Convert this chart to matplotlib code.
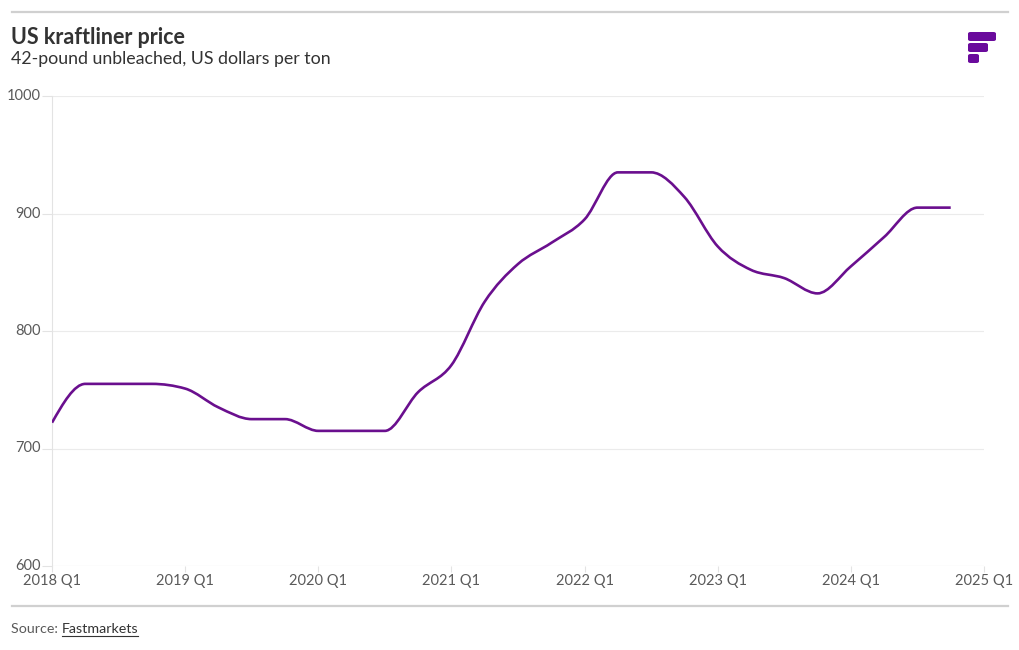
import numpy as np
import matplotlib
matplotlib.use("Agg")
import matplotlib.pyplot as plt
from matplotlib.path import Path
from matplotlib.patches import PathPatch, FancyBboxPatch
from matplotlib.lines import Line2D

# ---------------- data ----------------
quarters = ["2018 Q1", "2018 Q2", "2018 Q3", "2018 Q4",
            "2019 Q1", "2019 Q2", "2019 Q3", "2019 Q4",
            "2020 Q1", "2020 Q2", "2020 Q3", "2020 Q4",
            "2021 Q1", "2021 Q2", "2021 Q3", "2021 Q4",
            "2022 Q1", "2022 Q2", "2022 Q3", "2022 Q4",
            "2023 Q1", "2023 Q2", "2023 Q3", "2023 Q4",
            "2024 Q1", "2024 Q2", "2024 Q3", "2024 Q4"]
prices = [722, 755, 755, 755,
          751, 735, 725, 725,
          715, 715, 715, 748,
          771, 825, 857, 875,
          895, 935, 935, 914,
          872, 852, 845, 832,
          855, 880, 905, 905]
tick_labels = ["2018 Q1", "2019 Q1", "2020 Q1", "2021 Q1",
               "2022 Q1", "2023 Q1", "2024 Q1", "2025 Q1"]
y_ticks = [600, 700, 800, 900, 1000]

TITLE = "US kraftliner price"
SUBTITLE = "42-pound unbleached, US dollars per ton"
SOURCE_PREFIX = "Source: "
SOURCE_NAME = "Fastmarkets"

LINE_COLOR = "#6A0F8E"
TEXT_DARK = "#333333"
TEXT_TICK = "#5A5A5A"

plt.rcParams["font.family"] = ["Lato", "DejaVu Sans"]

W, H = 1020, 650
fig = plt.figure(figsize=(W / 100, H / 100), dpi=100)
fig.patch.set_facecolor("white")

def fx(px):
    return px / W

def fy(py):
    return 1 - py / H

ax = fig.add_axes([fx(52), fy(566), fx(984) - fx(52), fy(96) - fy(566)])

# ---- monotone-x cubic path (d3 curveMonotoneX style) built from the data ----
x = np.arange(len(prices), dtype=float)
y = np.array(prices, dtype=float)

def sign(v):
    return -1.0 if v < 0 else 1.0

n = len(x)
t = np.zeros(n)
for i in range(1, n - 1):
    h0 = x[i] - x[i - 1]
    h1 = x[i + 1] - x[i]
    s0 = (y[i] - y[i - 1]) / h0
    s1 = (y[i + 1] - y[i]) / h1
    p = (s0 * h1 + s1 * h0) / (h0 + h1)
    v = (sign(s0) + sign(s1)) * min(abs(s0), abs(s1), 0.5 * abs(p))
    t[i] = v if v != 0 else 0.0
h = x[1] - x[0]
t[0] = (3 * (y[1] - y[0]) / h - t[1]) / 2
h = x[-1] - x[-2]
t[-1] = (3 * (y[-1] - y[-2]) / h - t[-2]) / 2

verts = [(x[0], y[0])]
codes = [Path.MOVETO]
for i in range(n - 1):
    dx = (x[i + 1] - x[i]) / 3
    verts += [(x[i] + dx, y[i] + dx * t[i]),
              (x[i + 1] - dx, y[i + 1] - dx * t[i + 1]),
              (x[i + 1], y[i + 1])]
    codes += [Path.CURVE4, Path.CURVE4, Path.CURVE4]
patch = PathPatch(Path(verts, codes), facecolor="none", edgecolor=LINE_COLOR,
                  lw=1.9, capstyle="butt", joinstyle="round", zorder=3)
ax.add_patch(patch)

ax.set_xlim(0, 28)
ax.set_ylim(600, 1000)

ax.set_xticks(np.arange(0, 29, 4))
ax.set_xticklabels(tick_labels)
ax.set_yticks(y_ticks)
ax.set_yticklabels([str(v) for v in y_ticks])

ax.grid(axis="y", color="#EBEBEB", lw=0.8)
ax.set_axisbelow(True)
for s in ["top", "right", "bottom"]:
    ax.spines[s].set_visible(False)
ax.spines["left"].set_color("#E3E3E3")
ax.spines["left"].set_linewidth(0.8)

ax.tick_params(axis="y", length=7, width=0.8, color="#E3E3E3", pad=1,
               labelsize=10.5, labelcolor=TEXT_TICK)
ax.tick_params(axis="x", length=4, width=0.8, color="#E3E3E3", pad=2,
               labelsize=10.5, labelcolor=TEXT_TICK)
for lab in ax.get_yticklabels():
    lab.set_verticalalignment("center")

ax.axhline(600, color="#EBEBEB", lw=0.8, zorder=1)

# ---------------- header / footer ----------------
fig.add_artist(Line2D([fx(12), fx(1008)], [fy(12), fy(12)], color="#D0D0D0", lw=1.6))
fig.add_artist(Line2D([fx(12), fx(1008)], [fy(606), fy(606)], color="#D0D0D0", lw=1.6))

fig.text(fx(11), fy(37), TITLE, fontsize=15.5, fontweight="bold", color=TEXT_DARK,
         va="center", ha="left")
fig.text(fx(11), fy(59), SUBTITLE, fontsize=12.8, color=TEXT_DARK,
         va="center", ha="left")

src = fig.text(fx(11), fy(629), SOURCE_PREFIX, fontsize=10.3, color=TEXT_TICK,
               va="center", ha="left")
fig.canvas.draw()
bb = src.get_window_extent()
name = fig.text(bb.x1 / W, fy(629), SOURCE_NAME, fontsize=10.3, color=TEXT_DARK,
                va="center", ha="left")
nb = name.get_window_extent(renderer=fig.canvas.get_renderer())
fig.add_artist(Line2D([nb.x0 / W, nb.x1 / W], [fy(636), fy(636)], color=TEXT_DARK, lw=0.8))

# ---------------- logo ----------------
logo_color = "#6A0A9C"
for (x0, x1, y0, y1) in [(968, 996, 32, 41), (968, 988, 43, 52), (968, 979, 54, 63)]:
    fig.add_artist(FancyBboxPatch((fx(x0), fy(y1)), fx(x1) - fx(x0), fy(y0) - fy(y1),
                                  boxstyle="round,pad=0,rounding_size=0.0025",
                                  facecolor=logo_color, edgecolor="none",
                                  transform=fig.transFigure))

fig.savefig("out.png", dpi=100, facecolor="white")
